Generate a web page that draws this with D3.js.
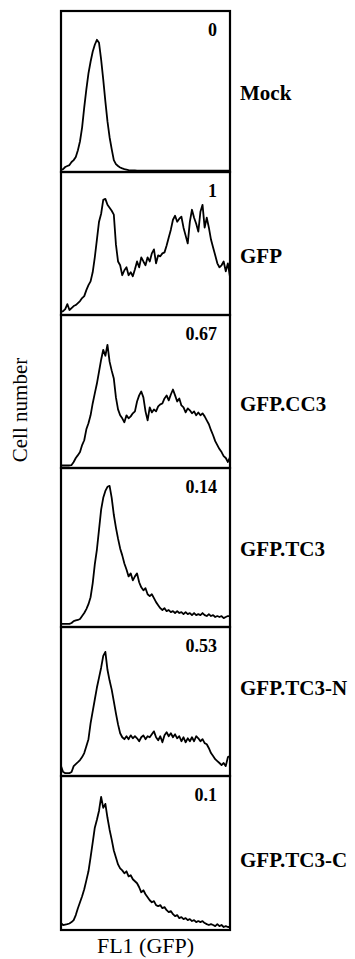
<!DOCTYPE html>
<html>
<head>
<meta charset="utf-8">
<script src="https://cdn.jsdelivr.net/npm/d3@7"></script>
<style>
  body { margin: 0; background: #fff; }
  svg { display: block; }
</style>
</head>
<body>
<div id="chart"></div>
<script>
// Histogram data: 81 channels across FL1, counts as % of panel height
var channels = d3.range(0, 81)

var sampleLabels = ["Mock", "GFP", "GFP.CC3", "GFP.TC3", "GFP.TC3-N", "GFP.TC3-C"]
var ratioLabels = ["0", "1", "0.67", "0.14", "0.53", "0.1"]

var mockCounts = [0.6, 1.2, 2.5, 3.1, 3.7, 5.6, 6.8, 8.7, 13, 18.6,
  27.3, 39.8, 51, 61, 68.3, 74.5, 78.9, 82, 80.1, 69.6,
  57.1, 43.5, 31, 21.1, 13.7, 6.8, 4.3, 3.1, 2.2, 1.6,
  1.2, 0.9, 0.6, 0.4, 0.3, 0.3, 0.2, 0.2, 0.2, 0.2,
  0.2, 0.2, 0.2, 0.2, 0.2, 0.2, 0.2, 0.2, 0.2, 0.2,
  0.2, 0.2, 0.2, 0.2, 0.2, 0.2, 0.2, 0.2, 0.2, 0.2,
  0.2, 0.2, 0.2, 0.2, 0.2, 0.2, 0.2, 0.2, 0.2, 0.2,
  0.2, 0.2, 0.2, 0.2, 0.2, 0.2, 0.2, 0.2, 0.2, 0.2, 0.2]

var gfpCounts = [1.4, 2, 3.5, 7, 2.8, 4.2, 5.6, 6.3, 7.7, 9.1,
  11.2, 12.6, 16.8, 20.3, 23, 29.4, 39.9, 52.4, 65, 70.6,
  80.4, 81.1, 76.9, 74.8, 72.7, 70, 49, 37, 34.3, 27.3,
  30.8, 32.9, 27.3, 29.4, 26.6, 31.5, 37, 32.9, 39.9, 37,
  34.3, 39.9, 37, 42.7, 45.5, 35.7, 41.3, 40.6, 42.7, 43.4,
  48.3, 53.8, 59.4, 66.4, 69.2, 65, 67.1, 68.5, 60.8, 55.2,
  49.7, 65, 73.4, 67.8, 63.6, 58, 72, 76.9, 60.8, 67.8,
  60.8, 52.4, 46.9, 41.3, 35.7, 32.9, 34.3, 37, 30.1, 35.7, 25.9]

var cc3Counts = [1, 1, 1, 1, 1, 1.3, 3.3, 5.9, 7.8, 9.8,
  14.4, 17.6, 24.8, 28.8, 34, 41.8, 48.4, 54.9, 62.7, 70.6,
  77.1, 73.2, 80.4, 69.3, 63.4, 58.2, 45.8, 37.9, 34, 32,
  29.4, 34, 32, 33.3, 35.3, 36.6, 43.1, 47.1, 49.7, 45.8,
  36.6, 30.7, 39.2, 35.9, 37.9, 36.6, 39.9, 41.2, 41.8, 45.1,
  47.1, 43.8, 47.7, 51, 47.1, 43.1, 45.1, 40.5, 39.2, 35.9,
  38.6, 37.3, 35.3, 36.6, 34, 35.9, 34, 35.3, 33.3, 30.7,
  28.1, 24.2, 20.9, 17, 14.4, 11.8, 9.8, 7.2, 5.9, 3.3, 6.5]

var tc3Counts = [1.3, 1.3, 1.3, 1.3, 1.3, 1.9, 3.1, 3.5, 3.8, 4.4,
  6.3, 8.2, 10.7, 13.8, 18.2, 27, 39, 48.4, 61, 73.6,
  81.1, 85.5, 88.1, 88.7, 81.1, 70.4, 62.3, 55.3, 49.1, 44.7,
  39.6, 35.8, 31.4, 33.3, 28.9, 31.4, 33.3, 27.7, 24.5, 22.6,
  23.9, 20.1, 18.9, 20.1, 17.6, 15.1, 13.2, 11.3, 10.1, 11.3,
  9.4, 10.1, 8.8, 9.4, 8.2, 9.4, 8.2, 8.8, 7.5, 8.8,
  7.5, 8.2, 6.9, 8.2, 6.9, 7.5, 6.9, 8.2, 6.9, 6.3,
  7.5, 6.3, 6.9, 5.7, 6.3, 5.7, 6.3, 5, 5.7, 6.3, 6.3]

var tc3nCounts = [6, 2, 1.3, 1.3, 1.3, 2, 6, 7.4, 8.7, 10.1,
  12.1, 14.8, 19.5, 24.2, 34.9, 43, 51, 59.1, 65.8, 72.5,
  80.5, 83.2, 71.1, 63.8, 57.7, 49.7, 41.6, 34.2, 28.2, 25.5,
  24.2, 26.2, 24.2, 26.8, 24.8, 26.2, 24.8, 22.8, 25.5, 26.8,
  24.2, 26.2, 25.5, 27.5, 29.5, 25.5, 23.5, 26.2, 22.1, 26.8,
  28.9, 26.2, 28.2, 25.5, 27.5, 24.8, 26.2, 22.8, 25.5, 22.1,
  24.8, 22.8, 25.5, 22.8, 26.2, 24.8, 22.8, 24.2, 21.5, 20.8,
  18.1, 14.8, 12.8, 10.7, 9.4, 8.1, 6.7, 8.1, 6, 12.1, 12.8]

var tc3cCounts = [3.9, 2.6, 2.9, 3.2, 3.6, 4.5, 5.8, 9.1, 13.6, 17.5,
  21.4, 26, 31.8, 37.7, 46.8, 56.5, 66.2, 71.4, 77.3, 86.4,
  79.2, 81.8, 72.7, 64.9, 58.4, 51.3, 46.8, 42.2, 39.6, 38.3,
  36.4, 37.7, 34.4, 35.1, 32.5, 31.2, 29.9, 27.3, 24, 25.3,
  22.7, 20.8, 18.8, 17.5, 18.2, 15.6, 14.9, 15.6, 13.6, 14.3,
  12.3, 11, 11.7, 9.7, 8.4, 9.1, 7.1, 7.8, 6.5, 7.1,
  5.8, 6.5, 5.2, 5.8, 4.5, 5.2, 4.5, 5.2, 3.9, 3.2,
  2.6, 3.2, 2.6, 1.9, 3.2, 1.9, 2.6, 1.3, 1.9, 1.3, 1.3]

var allCounts = [mockCounts, gfpCounts, cc3Counts, tc3Counts, tc3nCounts, tc3cCounts]

// Layout (pixels)
var width = 355
var height = 959
var frameLeft = 61
var frameRight = 230
var panelTops = [11, 172, 315, 468, 627, 776, 930] // last value is bottom of final panel
var labelY = [100, 263, 411, 556, 695, 867]
var serif = '"Liberation Serif", "Times New Roman", serif'

var svg = d3.select('#chart')
            .append('svg')
            .attr('width', width)
            .attr('height', height)

var xScale = d3.scaleLinear()
                .domain([0, 80])
                .range([frameLeft, frameRight])

for (let i = 0; i < allCounts.length; i++) {
    let panelTop = panelTops[i]
    let panelBottom = panelTops[i + 1]

    let yScale = d3.scaleLinear()
                    .domain([0, 100])
                    .range([panelBottom - 1, panelTop])

    let panel = svg.append('g')

    // Panel frame
    panel.append('rect')
            .attr('x', frameLeft)
            .attr('y', panelTop)
            .attr('width', frameRight - frameLeft)
            .attr('height', panelBottom - panelTop)
            .attr('fill', 'none')
            .attr('stroke', '#000')
            .attr('stroke-width', 2.2)

    let line = d3.line()
                    .x((d, j) => xScale(channels[j]))
                    .y((d) => yScale(d))

    panel.append('path')
            .datum(allCounts[i])
            .attr('d', line)
            .attr('fill', 'none')
            .attr('stroke', '#000')
            .attr('stroke-width', 1.8)
            .attr('stroke-linejoin', 'round')

    // Fraction value, top right of panel
    panel.append('text')
            .attr('x', 217)
            .attr('y', panelTop + 25)
            .attr('text-anchor', 'end')
            .style('font-family', serif)
            .style('font-weight', 'bold')
            .style('font-size', '18px')
            .text(ratioLabels[i])

    // Sample name, right of panel
    svg.append('text')
            .attr('x', 240)
            .attr('y', labelY[i])
            .style('font-family', serif)
            .style('font-weight', 'bold')
            .style('font-size', '21px')
            .text(sampleLabels[i])
}

// Axis titles
svg.append('text')
        .attr('x', (frameLeft + frameRight) / 2)
        .attr('y', 953)
        .attr('text-anchor', 'middle')
        .style('font-family', serif)
        .style('font-size', '22px')
        .text('FL1 (GFP)')

svg.append('text')
        .attr('transform', 'translate(27, 410) rotate(-90)')
        .attr('text-anchor', 'middle')
        .style('font-family', serif)
        .style('font-size', '21px')
        .text('Cell number')
</script>
</body>
</html>
